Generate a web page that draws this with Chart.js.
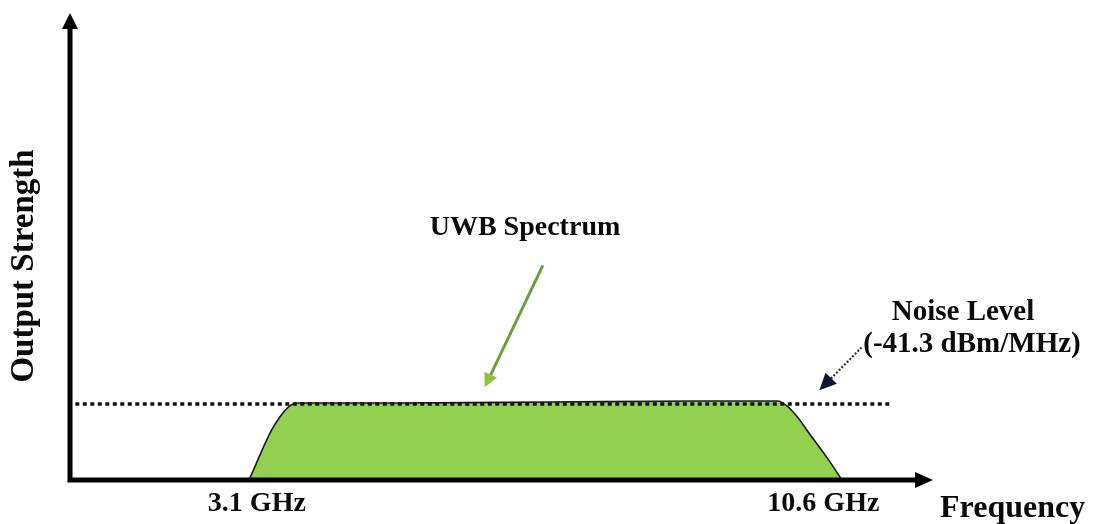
<!DOCTYPE html>
<html>
<head>
<meta charset="utf-8">
<script src="https://cdn.jsdelivr.net/npm/chart.js@4/dist/chart.umd.min.js"></script>
<style>
html,body{margin:0;padding:0;background:#fff;}
canvas{display:block;}
</style>
</head>
<body>
<canvas id="c" width="1098" height="524"></canvas>
<script>
// ---- data (x in GHz, y in relative output strength) ----
const spectrumX = [2.97, 3.27, 3.38, 3.49, 3.61, 4.97, 6.95, 8.94, 9.97, 10.09, 10.22, 10.40, 10.62, 10.82];
const spectrumY = [0, 6.64, 8.4, 9.69, 10.22, 10.22, 10.35, 10.49, 10.49, 9.85, 8.5, 6.0, 3.0, 0];
const noiseX = [0.67, 11.46];
const noiseY = [10.1, 10.1];
const tickValues = [3.1, 10.6];
const tickLabels = ['3.1 GHz', '10.6 GHz'];
const xAxisTitle = 'Frequency';
const yAxisTitle = 'Output Strength';
const spectrumLabel = 'UWB Spectrum';
const noiseLabel = ['Noise Level', '(-41.3 dBm/MHz)'];

const X_MIN = 0.6, X_MAX = 11.8, Y_MIN = 0, Y_MAX = 60;

function pts(xs, ys){ return xs.map((x,i)=>({x:x, y:ys[i]})); }

const FONT = "'Liberation Serif', 'Times New Roman', serif";

function arrowHead(ctx, x1, y1, x2, y2, len, half, color){
  const a = Math.atan2(y2-y1, x2-x1);
  ctx.save();
  ctx.fillStyle = color;
  ctx.beginPath();
  ctx.moveTo(x2, y2);
  ctx.lineTo(x2 - len*Math.cos(a) + half*Math.sin(a), y2 - len*Math.sin(a) - half*Math.cos(a));
  ctx.lineTo(x2 - len*Math.cos(a) - half*Math.sin(a), y2 - len*Math.sin(a) + half*Math.cos(a));
  ctx.closePath();
  ctx.fill();
  ctx.restore();
}

const decor = {
  id: 'decor',
  afterDatasetsDraw(chart){
    const ctx = chart.ctx;
    const xs = chart.scales.x, ys = chart.scales.y;
    const ca = chart.chartArea;
    ctx.save();
    // axes
    ctx.strokeStyle = '#000';
    ctx.lineWidth = 5;
    ctx.lineCap = 'butt';
    ctx.beginPath();
    ctx.moveTo(ca.left, ca.top);
    ctx.lineTo(ca.left, ca.bottom + 2.5);
    ctx.moveTo(ca.left - 2.5, ca.bottom);
    ctx.lineTo(ca.right, ca.bottom);
    ctx.stroke();
    // axis arrowheads
    ctx.fillStyle = '#000';
    ctx.beginPath();
    ctx.moveTo(ca.left, ca.top - 15);
    ctx.lineTo(ca.left - 8, ca.top + 1);
    ctx.lineTo(ca.left + 8, ca.top + 1);
    ctx.closePath(); ctx.fill();
    ctx.beginPath();
    ctx.moveTo(ca.right + 17, ca.bottom);
    ctx.lineTo(ca.right - 1, ca.bottom - 8);
    ctx.lineTo(ca.right - 1, ca.bottom + 8);
    ctx.closePath(); ctx.fill();

    // green arrow to spectrum
    const g1x = xs.getPixelForValue(6.86), g1y = ys.getPixelForValue(28.5);
    const g2x = xs.getPixelForValue(6.09), g2y = ys.getPixelForValue(12.3);
    ctx.strokeStyle = '#6a9f40';
    ctx.lineWidth = 3;
    ctx.beginPath();
    const ga = Math.atan2(g2y-g1y, g2x-g1x);
    ctx.moveTo(g1x, g1y);
    ctx.lineTo(g2x - 10*Math.cos(ga), g2y - 10*Math.sin(ga));
    ctx.stroke();
    arrowHead(ctx, g1x, g1y, g2x, g2y, 14, 7, '#8cc63f');

    // noise arrow
    const n1x = xs.getPixelForValue(11.08), n1y = ys.getPixelForValue(17.6);
    const n2x = xs.getPixelForValue(10.52), n2y = ys.getPixelForValue(11.9);
    ctx.strokeStyle = '#333';
    ctx.lineWidth = 2.2;
    ctx.setLineDash([2, 1.8]);
    ctx.beginPath();
    const na = Math.atan2(n2y-n1y, n2x-n1x);
    ctx.moveTo(n1x, n1y);
    ctx.lineTo(n2x - 10*Math.cos(na), n2y - 10*Math.sin(na));
    ctx.stroke();
    ctx.setLineDash([]);
    arrowHead(ctx, n1x, n1y, n2x, n2y, 17, 8, '#0d1530');

    // texts
    ctx.fillStyle = '#0a0a0a';
    ctx.textBaseline = 'alphabetic';
    ctx.textAlign = 'center';
    ctx.font = 'bold 28px ' + FONT;
    tickValues.forEach((v,i)=>{
      ctx.fillText(tickLabels[i], xs.getPixelForValue(v) - 2, ca.bottom + 31);
    });
    ctx.fillText(spectrumLabel, 525, 235);
    ctx.font = 'bold 29px ' + FONT;
    ctx.fillText(noiseLabel[0], 963, 320);
    ctx.fillText(noiseLabel[1], 972, 352);
    ctx.font = 'bold 32px ' + FONT;
    ctx.textAlign = 'left';
    ctx.fillText(xAxisTitle, 940, 517);
    // vertical y title
    ctx.save();
    ctx.translate(33, 266);
    ctx.rotate(-Math.PI/2);
    ctx.textAlign = 'center';
    ctx.font = 'bold 33px ' + FONT;
    ctx.fillText(yAxisTitle, 0, 0);
    ctx.restore();
    ctx.restore();
  }
};

new Chart(document.getElementById('c'), {
  type: 'line',
  data: {
    datasets: [
      {
        label: 'UWB Spectrum',
        data: pts(spectrumX, spectrumY),
        borderColor: '#1b1b1b',
        borderWidth: 1.6,
        backgroundColor: '#92d050',
        fill: 'origin',
        pointRadius: 0,
        cubicInterpolationMode: 'monotone',
        order: 2
      },
      {
        label: 'Noise Level',
        data: pts(noiseX, noiseY),
        borderColor: '#111',
        borderWidth: 3.5,
        borderDash: [4, 3.5],
        fill: false,
        pointRadius: 0,
        order: 1
      }
    ]
  },
  options: {
    responsive: false,
    animation: false,
    devicePixelRatio: 1,
    layout: { padding: { left: 70, right: 182, top: 28, bottom: 44 } },
    plugins: { legend: { display: false }, tooltip: { enabled: false } },
    scales: {
      x: { type: 'linear', min: X_MIN, max: X_MAX, display: false },
      y: { type: 'linear', min: Y_MIN, max: Y_MAX, display: false }
    }
  },
  plugins: [decor]
});
</script>
</body>
</html>
